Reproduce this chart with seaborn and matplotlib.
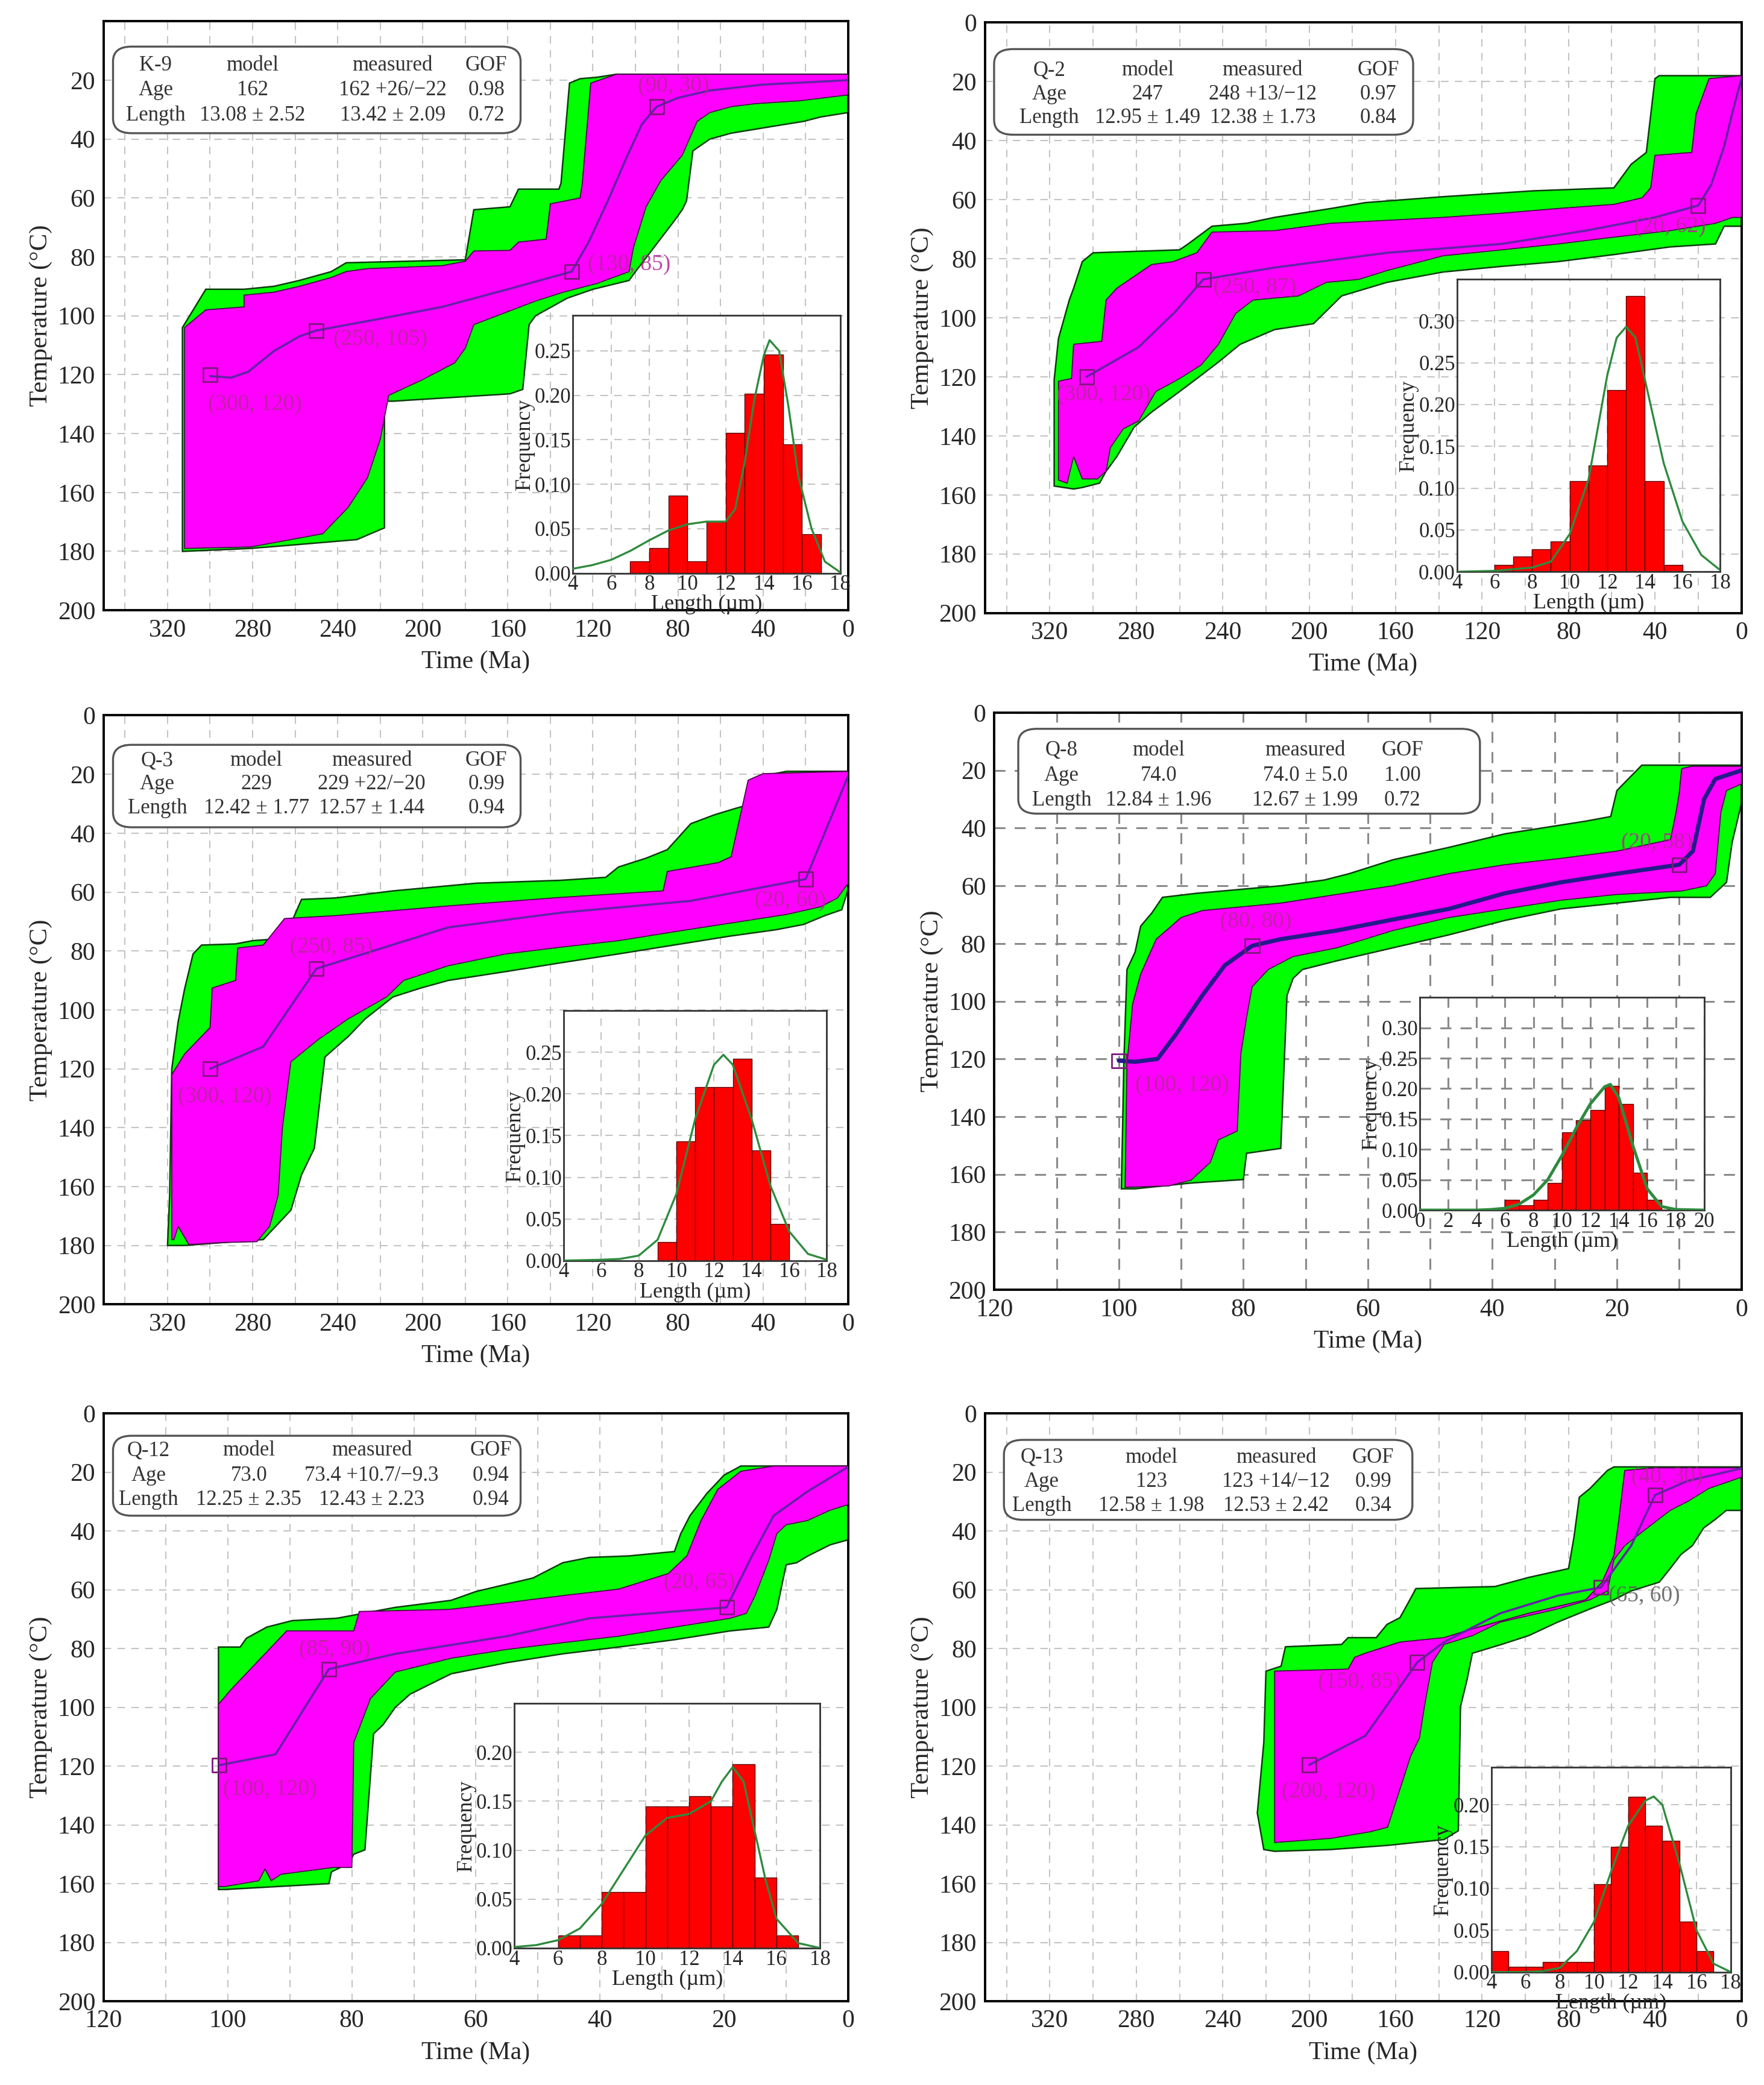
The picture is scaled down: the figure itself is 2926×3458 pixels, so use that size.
import numpy as np
import pandas as pd
import matplotlib
matplotlib.use("Agg")
import matplotlib.pyplot as plt
from matplotlib.patches import FancyBboxPatch, Polygon
import seaborn as sns

sns.set_style("white")
plt.rcParams["font.family"] = ["Liberation Serif", "DejaVu Serif"]

GREEN = "#00ff00"
MAGENTA = "#ff00ff"
PATH = "#6422a8"
BAR = "#ff0000"
CURVE = "#2e8b3e"
LABEL = "#b42896"

# ---------------- K-9 ----------------
k9_green = [(313, 180), (313, 104), (302, 91), (284, 91), (270, 90), (258, 88), (243, 85), (236, 82),
            (180, 81), (176, 64), (159, 63), (155, 57), (136, 57), (135, 55), (131, 21), (126, 19.5),
            (118, 19), (109, 18), (0, 18),
            (0, 31), (13, 32.5), (21, 34), (34, 35.5), (55, 38), (65, 40), (73, 44), (76, 61), (78, 64),
            (82, 68), (100, 85), (103, 88), (120, 91), (132, 94), (147, 100), (150, 103), (153, 125),
            (159, 126.5), (214, 129), (218, 129), (218, 172), (231, 176), (264, 178), (281, 179)]
k9_magenta = [(312, 179), (312, 104), (302, 98), (284, 97), (284, 93), (270, 92), (258, 90), (243, 87),
              (236, 85), (226, 84), (191, 83), (180, 81.5), (176, 78), (159, 77.8), (155, 75), (142, 74),
              (140, 62), (126, 60), (125, 55), (121, 21), (109, 18), (0, 18),
              (0, 25), (23, 27), (44, 28), (55, 29), (65, 31), (71, 34), (78, 45.5), (88, 54), (95, 63),
              (101, 77), (103, 85), (118, 89), (134, 92), (147, 95), (176, 103), (180, 111), (185, 116),
              (201, 122), (216, 127), (220, 142), (226, 155), (235, 165), (247, 174), (281, 178.5)]
k9_path = [(300, 120.5), (290, 121), (282, 119), (270, 112), (258, 107), (250, 105), (220, 101),
           (191, 97), (160, 91), (130, 85), (122, 75), (113, 61), (104, 46), (97, 35), (90, 29),
           (80, 26), (65, 23.5), (40, 21.5), (0, 20)]
k9_boxes = [(300, 120), (250, 105), (130, 85), (90, 29)]
k9_labels = [("(300, 120)", 279, 130), ("(250, 105)", 220, 108), ("(130, 85)", 103, 82.5), ("(90, 30)", 82, 22)]
k9_rows = [["K-9", "model", "measured", "GOF"], ["Age", "162", "162 +26/−22", "0.98"],
           ["Length", "13.08 ± 2.52", "13.42 ± 2.09", "0.72"]]
k9_edges = [7, 8, 9, 10, 11, 12, 13, 14, 15, 16, 17]
k9_freq = [0.013, 0.028, 0.087, 0.013, 0.058, 0.158, 0.202, 0.246, 0.145, 0.044]
k9_curve_x = [4, 5, 6, 7, 8, 9, 10, 11, 12, 12.5, 13, 13.5, 14, 14.3, 14.8, 15.3, 15.8, 16.5, 17.2, 18]
k9_curve_y = [0.005, 0.009, 0.015, 0.025, 0.037, 0.048, 0.055, 0.058, 0.058, 0.072, 0.125, 0.195,
              0.245, 0.262, 0.25, 0.186, 0.11, 0.05, 0.013, 0.001]

# ---------------- Q-2 ----------------
q2_green = [(318, 157), (318, 121), (316, 107), (311, 94), (309, 90), (305, 81), (300, 78), (260, 77),
            (256, 75), (245, 69), (229, 68), (216, 66), (190, 63), (174, 61), (138, 59), (96, 57),
            (59, 56), (51, 48), (44, 44), (40, 19), (38, 18), (0, 18),
            (0, 69), (8, 69), (12, 75), (33, 76), (59, 78.6), (85, 81), (111, 82.6), (138, 84.5),
            (164, 88), (185, 92.6), (198, 102), (216, 104), (232, 109), (242, 115), (252, 120.6),
            (260, 125), (273, 132), (281, 137), (289, 147), (294, 152), (297, 156), (305, 157.5), (309, 158)]
q2_magenta = [(316, 155), (316, 121.5), (310, 120.6), (309, 109), (296, 108), (294, 94), (289, 90),
              (273, 82), (263, 81), (252, 78), (245, 71), (216, 70.5), (190, 68), (164, 67), (138, 66),
              (111, 64.6), (85, 63), (59, 61.6), (46, 59.4), (42, 56), (40, 45), (23, 44), (21, 31),
              (15, 19), (0, 18),
              (0, 66), (4, 66), (12, 68), (33, 70.5), (59, 72.7), (85, 75), (111, 77), (138, 79),
              (164, 84), (177, 87), (192, 88), (205, 92.6), (226, 94), (234, 98.5), (242, 109), (250, 116),
              (260, 120.6), (271, 125), (279, 135), (286, 137.6), (292, 144), (294, 152), (298, 154.6),
              (305, 154.6), (309, 147), (312, 156)]
q2_path = [(303, 120), (279, 110), (262, 98), (249, 87), (216, 83), (164, 78), (111, 75), (72, 70.5),
           (40, 66), (20, 62), (14, 55), (8, 42), (4, 30), (0, 19)]
q2_boxes = [(303, 120), (249, 87), (20, 62)]
q2_labels = [("(300, 120)", 295, 126), ("(250, 87)", 225, 89.7), ("(20, 62)", 33, 69)]
q2_rows = [["Q-2", "model", "measured", "GOF"], ["Age", "247", "248 +13/−12", "0.97"],
           ["Length", "12.95 ± 1.49", "12.38 ± 1.73", "0.84"]]
q2_edges = [6, 7, 8, 9, 10, 11, 12, 13, 14, 15, 16]
q2_freq = [0.008, 0.018, 0.027, 0.036, 0.108, 0.127, 0.217, 0.33, 0.108, 0.008]
q2_curve_x = [4, 6, 8, 9, 10, 11, 12, 12.5, 13, 13.5, 14, 15, 16, 17, 18]
q2_curve_y = [0, 0.001, 0.005, 0.012, 0.045, 0.11, 0.235, 0.28, 0.293, 0.28, 0.23, 0.13, 0.06, 0.02, 0.002]

# ---------------- Q-3 ----------------
q3_green = [(320, 180), (319, 163), (318, 120), (315, 104), (312, 93), (308, 81), (304, 78), (288, 77.6),
            (280, 76.5), (265, 75.7), (257, 62.5), (241, 62), (214, 59.6), (175, 57), (135, 56), (114, 55),
            (108, 51.5), (95, 48.5), (85, 45.6), (74, 36.8), (63, 33.8), (53, 31.6), (45, 30), (40, 20.6),
            (29, 19), (0, 19),
            (0, 59), (3, 66), (11, 68), (21, 71), (34, 72.8), (56, 75), (82, 78), (108, 81), (135, 84),
            (161, 87), (188, 90), (201, 92.6), (214, 95.6), (227, 103), (235, 109), (246, 116), (251, 147),
            (257, 156), (262, 168), (275, 178), (294, 179), (312, 180)]
q3_magenta = [(318, 178), (318, 122), (312, 115), (300, 106), (299, 92.6), (288, 90), (287, 79), (275, 78),
              (265, 69), (241, 68), (188, 64.7), (135, 61.8), (87, 59.6), (85, 53), (61, 50), (55, 48),
              (47, 22), (40, 19.8), (0, 19),
              (0, 57), (5, 62), (13, 65), (29, 67.6), (56, 70.6), (82, 73.5), (108, 76.5), (135, 78.7),
              (161, 81), (188, 85), (209, 90), (217, 95.6), (235, 103), (249, 110), (262, 117.6), (266, 140),
              (268, 163), (272, 173.5), (278, 178.7), (294, 179), (310, 179.7), (315, 173.5), (317, 178)]
q3_path = [(300, 120), (275, 112.5), (250, 86), (188, 72), (135, 67), (74, 63), (20, 55.6), (0, 20.6)]
q3_boxes = [(300, 120), (250, 86), (20, 55.6)]
q3_labels = [("(300, 120)", 293, 129.4), ("(250, 85)", 243, 78.7), ("(20, 60)", 27, 63)]
q3_rows = [["Q-3", "model", "measured", "GOF"], ["Age", "229", "229 +22/−20", "0.99"],
           ["Length", "12.42 ± 1.77", "12.57 ± 1.44", "0.94"]]
q3_edges = [9, 10, 11, 12, 13, 14, 15, 16]
q3_freq = [0.022, 0.143, 0.208, 0.208, 0.242, 0.132, 0.044]
q3_curve_x = [4, 6, 7, 8, 9, 10, 11, 12, 12.5, 13, 14, 15, 16, 17, 18]
q3_curve_y = [0, 0.001, 0.002, 0.006, 0.025, 0.08, 0.17, 0.235, 0.247, 0.235, 0.17, 0.09, 0.035, 0.008, 0.001]

# ---------------- Q-8 ----------------
q8_green = [(99.6, 165), (99.4, 143.6), (99.2, 121), (98.7, 89), (97.4, 83), (96.5, 74), (94.7, 69.4),
            (93, 64), (87.5, 62.6), (74, 60), (67, 58), (63, 55.8), (56, 51), (47, 46.7), (38, 42),
            (25, 37.6), (21, 36), (20, 27), (16, 18.2), (0, 18.2),
            (0, 31.5), (1.5, 45), (2.4, 58.8), (5, 64), (11.4, 64), (20, 66), (29, 68), (38, 72), (47, 77),
            (56, 81.5), (65, 86), (70.5, 89), (72, 92), (73, 98), (74, 151), (79.5, 152.7), (80, 161.8),
            (88.4, 163), (97.4, 165)]
q8_magenta = [(99, 164.5), (98.7, 122), (97.8, 101), (96.5, 90.6), (94, 78.5), (90, 71), (86.6, 68.6),
              (74, 66), (65, 63), (56, 60), (47, 55.8), (38, 52.7), (29, 50.5), (20, 48), (11.4, 44),
              (10.5, 34.5), (10, 28), (9.6, 19.4), (8, 18.6), (0, 18.6),
              (0, 24.7), (2.4, 27), (3.3, 34.5), (4.2, 55.8), (5.6, 60), (9.6, 61.8), (20, 63), (29, 65),
              (38, 68), (47, 71), (56, 75.5), (65, 81.5), (72, 84.5), (76, 89), (78.6, 95), (79.5, 105.8),
              (80.4, 118), (81, 145), (84, 148), (85.3, 155.8), (88.4, 162), (92, 164)]
q8_path = [(100, 120.6), (97.4, 121), (93.8, 120), (91, 112), (86.6, 98), (83, 87.6), (78.6, 80.8),
           (74, 78.5), (65, 75.5), (56, 71.7), (47, 68), (38, 62.6), (29, 58.8), (20, 55.8), (10, 52.7),
           (7.8, 48), (6, 30), (4.2, 23), (0, 20)]
q8_boxes = [(100, 120.6), (78.6, 80.8), (10, 52.7)]
q8_labels = [("(100, 120)", 89.8, 129), ("(80, 80)", 78, 72.4), ("(20, 58)", 13.6, 45)]
q8_rows = [["Q-8", "model", "measured", "GOF"], ["Age", "74.0", "74.0 ± 5.0", "1.00"],
           ["Length", "12.84 ± 1.96", "12.67 ± 1.99", "0.72"]]
q8_edges = [6, 7, 8, 9, 10, 11, 12, 13, 14, 15, 16, 17]
q8_freq = [0.017, 0.008, 0.017, 0.045, 0.128, 0.148, 0.165, 0.204, 0.175, 0.062, 0.017]
q8_curve_x = [0, 4, 5, 6, 7, 8, 9, 10, 11, 12, 13, 13.4, 14, 15, 16, 17, 18, 20]
q8_curve_y = [0, 0, 0.001, 0.003, 0.01, 0.025, 0.05, 0.09, 0.135, 0.175, 0.203, 0.207, 0.185, 0.105,
              0.035, 0.006, 0.001, 0]

# ---------------- Q-12 ----------------
q12_green = [(101.5, 162), (101.5, 79.5), (98, 79.5), (97, 76.5), (93.7, 72.7), (89.6, 70.5), (82.4, 69.7),
             (73, 66), (64, 63.6), (60, 60.6), (50.8, 56), (46, 50.8), (41.7, 49), (35.4, 48.5), (28, 47),
             (27, 41), (25.5, 34.8), (22.8, 27.3), (20, 21), (17.3, 17.9), (0, 17.9),
             (0, 43), (2.9, 44.7), (6.5, 48.5), (8.3, 50.8), (10, 51.5), (11.5, 66.7), (12.8, 72.7), (19, 74),
             (28, 77), (37, 79.5), (46, 81.8), (55, 84.8), (64, 88.6), (70.6, 95.5), (73, 100), (75, 106),
             (76.5, 109), (77.9, 148.5), (79.7, 150), (80.4, 153), (83.3, 156), (83.7, 160), (100.5, 162)]
q12_magenta = [(101.5, 161), (101.5, 99), (99.5, 94), (96.8, 88), (90.5, 74), (79.7, 74), (78.8, 67.4),
               (64.3, 66.7), (55, 64.4), (46, 62), (37, 59.8), (29, 54.5), (26, 48.5), (23.7, 36.4),
               (21, 25.8), (17.3, 19.7), (12, 17.9), (0, 17.9),
               (0, 31), (3, 33), (6.5, 36.4), (10, 37.9), (11.5, 40.9), (12.8, 50), (15, 62), (16.4, 68),
               (19, 69.7), (28, 72.7), (37, 75.8), (46, 78), (55, 80.3), (64, 83.3), (73, 88), (77, 97),
               (79.7, 112), (80, 154.5), (83, 154.5), (91.4, 156.8), (93, 159), (94, 155), (95, 159),
               (100.5, 161)]
q12_path = [(101.4, 119.7), (92.3, 116), (83.7, 87), (73, 81.8), (55, 75.8), (41.7, 69.7), (19.6, 66),
            (15.5, 48.5), (12, 34.8), (6.5, 26.5), (0, 18.2)]
q12_boxes = [(101.4, 119.7), (83.7, 87), (19.6, 66)]
q12_labels = [("(100, 120)", 93.2, 128), ("(85, 90)", 82.8, 80.3), ("(20, 65)", 24, 57.6)]
q12_rows = [["Q-12", "model", "measured", "GOF"], ["Age", "73.0", "73.4 +10.7/−9.3", "0.94"],
            ["Length", "12.25 ± 2.35", "12.43 ± 2.23", "0.94"]]
q12_edges = [6, 7, 8, 9, 10, 11, 12, 13, 14, 15, 16, 17]
q12_freq = [0.013, 0.013, 0.057, 0.057, 0.145, 0.145, 0.155, 0.145, 0.188, 0.072, 0.013]
q12_curve_x = [4, 5, 6, 7, 8, 9, 10, 11, 12, 13, 13.5, 14, 14.5, 15, 15.5, 16, 17, 18]
q12_curve_y = [0.001, 0.003, 0.008, 0.02, 0.045, 0.08, 0.115, 0.133, 0.137, 0.15, 0.17, 0.185, 0.17,
               0.12, 0.07, 0.03, 0.005, 0]

# ---------------- Q-13 ----------------
q13_green = [(221, 148.4), (224, 136), (221, 112), (220, 87.7), (213, 86), (211, 79.4), (185, 78.6),
             (182, 76.3), (169, 76.3), (164, 71.8), (158, 69.5), (154.6, 65), (150.6, 59.6), (114, 58.9),
             (98.4, 55.8), (80, 52.8), (77.5, 42.2), (75, 28.5), (70, 25.5), (62, 19.4), (59, 18.2), (0, 18.2),
             (0, 33), (7, 33), (12, 36), (17.5, 39), (22.7, 45), (28, 48), (33, 52.8), (38, 57.4), (51, 60.4),
             (59, 63.4), (70, 66.5), (85, 71), (98.4, 75.6), (111, 78.6), (124.5, 81.6), (127, 90.7),
             (130, 99.8), (131, 142), (137.6, 145), (164, 147), (190, 148.4), (216, 149)]
q13_magenta = [(216, 146), (216, 87.7), (182, 87), (179, 83), (174, 81.6), (158, 77.8), (137.6, 76.3),
               (124.5, 73.3), (98.4, 68), (72, 63.4), (64.5, 57.4), (59, 48.3), (56.7, 36), (54, 19.4),
               (40, 18.5), (0, 18.5),
               (0, 21.7), (15, 25.5), (25, 30), (33, 33), (43.6, 39), (54, 45), (59, 49.8), (62, 60.4),
               (70, 63.4), (85, 66.5), (111.5, 71), (124.5, 75.6), (137.6, 78.6), (143, 84.7), (146.7, 99.8),
               (149, 110.5), (153, 116.5), (163.7, 140.8), (171.5, 142.3), (190, 144.6)]
q13_path = [(200, 119.6), (174, 109.7), (150, 84.7), (137.6, 77.8), (111.5, 68), (85, 62), (65, 59.2),
            (51, 45), (40, 27.8), (25, 23), (0, 18.7)]
q13_boxes = [(200, 119.6), (150, 84.7), (65, 59.2), (40, 27.8)]
q13_labels = [("(200, 120)", 191, 128.7), ("(150, 85)", 176.8, 91.5), ("(65, 60)", 45, 62), ("(40, 30)", 34.5, 21.7)]
q13_rows = [["Q-13", "model", "measured", "GOF"], ["Age", "123", "123 +14/−12", "0.99"],
            ["Length", "12.58 ± 1.98", "12.53 ± 2.42", "0.34"]]
q13_edges = [4, 5, 6, 7, 8, 9, 10, 11, 12, 13, 14, 15, 16, 17]
q13_freq = [0.025, 0.006, 0.006, 0.012, 0.012, 0.012, 0.105, 0.15, 0.21, 0.175, 0.157, 0.06, 0.025]
q13_curve_x = [4, 6, 7, 8, 9, 10, 11, 12, 13, 13.5, 14, 15, 16, 17, 18]
q13_curve_y = [0, 0, 0.001, 0.005, 0.025, 0.06, 0.12, 0.175, 0.205, 0.21, 0.2, 0.13, 0.05, 0.01, 0]


panels = [
    dict(pos=[0.0588, 0.7073, 0.4220, 0.2825], ins=[0.3248, 0.7251, 0.1515, 0.1237], tmax=350,
         green=k9_green, magenta=k9_magenta, path=k9_path, boxes=k9_boxes, labels=k9_labels, rows=k9_rows,
         edges=k9_edges, freq=k9_freq, cx=k9_curve_x, cy=k9_curve_y, fylim=0.29, fyticks=0.25,
         cols=[0.07, 0.2, 0.388, 0.514], rowy=[0.925, 0.883, 0.84], box=[0.0125, 0.81, 0.5475, 0.147], zero=False),
    dict(pos=[0.5584, 0.7060, 0.4288, 0.2832], ins=[0.8259, 0.7258, 0.1492, 0.1403], tmax=350,
         green=q2_green, magenta=q2_magenta, path=q2_path, boxes=q2_boxes, labels=q2_labels, rows=q2_rows,
         edges=q2_edges, freq=q2_freq, cx=q2_curve_x, cy=q2_curve_y, fylim=0.35, fyticks=0.30,
         cols=[0.085, 0.215, 0.367, 0.52], rowy=[0.919, 0.878, 0.838], box=[0.012, 0.81, 0.554, 0.145], zero=True),
    dict(pos=[0.0588, 0.3744, 0.4220, 0.2825], ins=[0.3195, 0.3954, 0.1492, 0.1199], tmax=350,
         green=q3_green, magenta=q3_magenta, path=q3_path, boxes=q3_boxes, labels=q3_labels, rows=q3_rows,
         edges=q3_edges, freq=q3_freq, cx=q3_curve_x, cy=q3_curve_y, fylim=0.30, fyticks=0.25,
         cols=[0.072, 0.205, 0.36, 0.514], rowy=[0.923, 0.883, 0.842], box=[0.0125, 0.81, 0.5475, 0.14], zero=True),
    dict(pos=[0.5637, 0.3814, 0.4235, 0.2768], ins=[0.8048, 0.4196, 0.1613, 0.1020], tmax=120,
         green=q8_green, magenta=q8_magenta, path=q8_path, boxes=q8_boxes, labels=q8_labels, rows=q8_rows,
         edges=q8_edges, freq=q8_freq, cx=q8_curve_x, cy=q8_curve_y, fylim=0.35, fyticks=0.30,
         cols=[0.09, 0.22, 0.416, 0.546], rowy=[0.935, 0.891, 0.848], box=[0.032, 0.825, 0.618, 0.147], zero=True,
         dark=True),
    dict(pos=[0.0588, 0.0402, 0.4220, 0.2819], ins=[0.2916, 0.0657, 0.1733, 0.1173], tmax=120,
         green=q12_green, magenta=q12_magenta, path=q12_path, boxes=q12_boxes, labels=q12_labels, rows=q12_rows,
         edges=q12_edges, freq=q12_freq, cx=q12_curve_x, cy=q12_curve_y, fylim=0.25, fyticks=0.20,
         cols=[0.06, 0.195, 0.36, 0.52], rowy=[0.937, 0.894, 0.853], box=[0.0125, 0.826, 0.5475, 0.136], zero=True),
    dict(pos=[0.5584, 0.0402, 0.4288, 0.2819], ins=[0.8455, 0.0542, 0.1356, 0.0982], tmax=350,
         green=q13_green, magenta=q13_magenta, path=q13_path, boxes=q13_boxes, labels=q13_labels, rows=q13_rows,
         edges=q13_edges, freq=q13_freq, cx=q13_curve_x, cy=q13_curve_y, fylim=0.245, fyticks=0.20,
         cols=[0.075, 0.22, 0.385, 0.513], rowy=[0.925, 0.884, 0.843], box=[0.025, 0.819, 0.54, 0.136], zero=True),
]

fig = plt.figure(figsize=(29.26, 34.58), dpi=100, facecolor="white")

for p in panels:
    dark = p.get("dark", False)
    gridc = "#8a8a8a" if dark else "#c4c4c4"
    gridlw = 2.2 if dark else 1.5
    ax = fig.add_axes(p["pos"])
    ax.set_axisbelow(True)

    ax.add_patch(Polygon(p["green"], closed=True, facecolor=GREEN, edgecolor="#0b3d0b", lw=1.8, zorder=2))
    ax.add_patch(Polygon(p["magenta"], closed=True, facecolor=MAGENTA, edgecolor="#4a0a4a", lw=1.3, zorder=3))

    path = pd.DataFrame(p["path"], columns=["t", "T"])
    sns.lineplot(data=path, x="t", y="T", sort=False, estimator=None, ax=ax,
                 color="#251a8a" if dark else PATH, lw=5 if dark else 2.6, zorder=4)
    boxes = pd.DataFrame(p["boxes"], columns=["t", "T"])
    sns.scatterplot(data=boxes, x="t", y="T", marker="s", s=280, facecolor="none",
                    edgecolor="#7a1a7a", linewidth=2.0, ax=ax, zorder=5)
    for txt, tx, ty in p["labels"]:
        col = "#5a5a5a" if txt == "(65, 60)" else LABEL
        ax.text(tx, ty, txt, color=col, fontsize=27, ha="center", va="center", zorder=6, alpha=0.85)

    tmax = p["tmax"]
    ax.set_xlim(tmax, 0)
    ax.set_ylim(200, 0)
    if tmax > 200:
        ax.set_xticks(np.arange(320, -1, -40))
        ax.set_xticks(np.arange(340, -1, -20), minor=True)
    else:
        ax.set_xticks(np.arange(120, -1, -20))
        ax.set_xticks(np.arange(110, -1, -10), minor=True)
    ax.set_yticks(np.arange(0 if p["zero"] else 20, 201, 20))
    ax.set_yticks(np.arange(20, 200, 20), minor=True)
    ax.grid(which="both", axis="both", color=gridc, ls=(0, (6, 5)), lw=gridlw)
    ax.tick_params(which="both", length=0, labelsize=30, pad=10)
    ax.set_xlabel("Time (Ma)", fontsize=30, labelpad=10)
    ax.set_ylabel("Temperature (°C)", fontsize=31, labelpad=6)
    for s in ax.spines.values():
        s.set_color("black")
        s.set_linewidth(2.8)

    bx = p["box"]
    ax.add_patch(FancyBboxPatch((bx[0], bx[1]), bx[2], bx[3], transform=ax.transAxes,
                                boxstyle="round,pad=0,rounding_size=0.025", facecolor="white",
                                edgecolor="#555555", lw=2.4, zorder=7))
    for r, row in enumerate(p["rows"]):
        for c, txt in enumerate(row):
            ax.text(p["cols"][c], p["rowy"][r], txt, transform=ax.transAxes, ha="center", va="center",
                    fontsize=25, color="#333333", zorder=8)

    # inset length histogram
    ai = fig.add_axes(p["ins"])
    ai.set_axisbelow(True)
    edges = p["edges"]
    centers = [(a + b) / 2 for a, b in zip(edges[:-1], edges[1:])]
    sns.histplot(x=centers, weights=p["freq"], bins=edges, stat="count", color=BAR, alpha=1,
                 edgecolor="#5a0000", linewidth=1.0, ax=ai, zorder=2)
    sns.lineplot(x=p["cx"], y=p["cy"], sort=False, estimator=None, color=CURVE,
                 lw=3.6 if dark else 2.4, ax=ai, zorder=3)
    if dark:
        ai.set_xlim(0, 20)
        ai.set_xticks(np.arange(0, 21, 2))
    else:
        ai.set_xlim(4, 18)
        ai.set_xticks(np.arange(4, 19, 2))
    ai.set_ylim(0, p["fylim"])
    ai.set_yticks(np.round(np.arange(0, p["fyticks"] + 0.001, 0.05), 2))
    ai.yaxis.set_major_formatter(matplotlib.ticker.FormatStrFormatter("%.2f"))
    ai.grid(True, color=gridc, ls=(0, (6, 5)), lw=gridlw)
    ai.tick_params(length=0, labelsize=25, pad=2)
    ai.set_xlabel("Length (µm)", fontsize=26, labelpad=0)
    ai.set_ylabel("Frequency", fontsize=26, labelpad=0)
    for s in ai.spines.values():
        s.set_color("#333333")
        s.set_linewidth(2.0)

fig.savefig("out.png", dpi=100, facecolor="white")
